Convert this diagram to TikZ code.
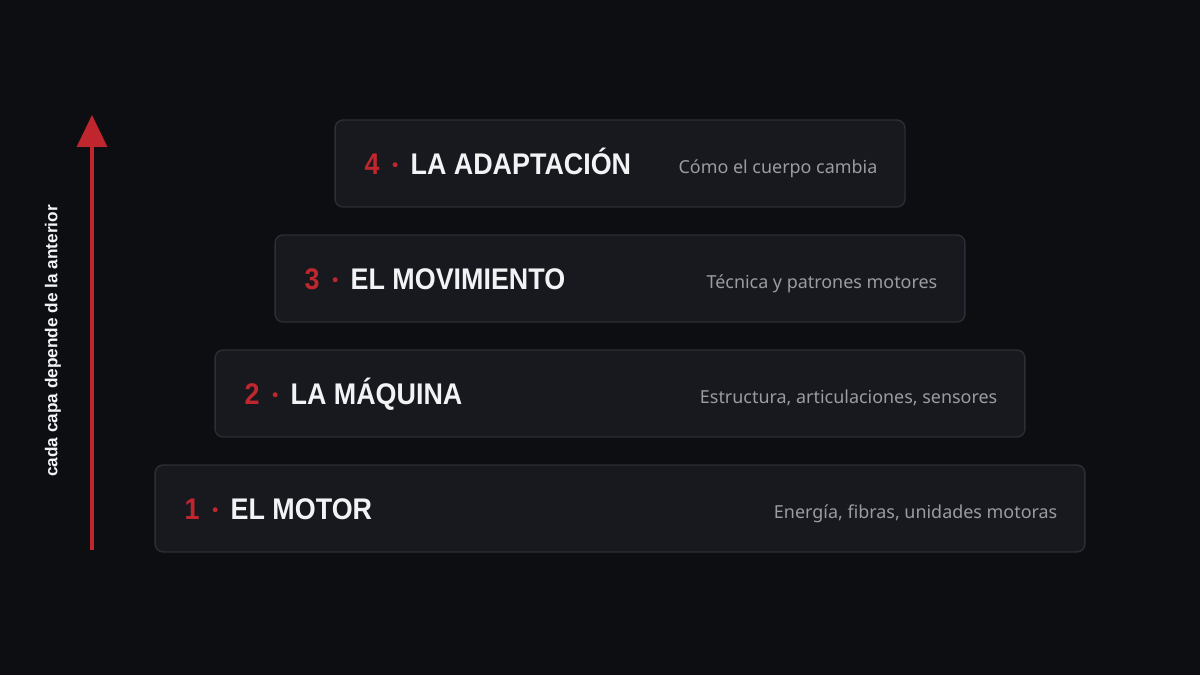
\documentclass[tikz,border=0pt]{standalone}
\usepackage{fontspec}
\setmainfont{Noto Sans}
\newfontfamily\titlefont[FakeStretch = 0.9]{Liberation Sans}
\newfontfamily\labelfont{Liberation Sans}
\usetikzlibrary{
    arrows.meta,
    positioning
}
\definecolor{bgdark}{HTML}{0D0E12}
\definecolor{boxfill}{HTML}{18191E}
\definecolor{boxline}{HTML}{2C2D35}
\definecolor{accent}{HTML}{C0262D}
\definecolor{titlewhite}{HTML}{F2F3F5}
\definecolor{notegrey}{HTML}{9A9CA4}
\newcommand{\layerdot}{\hspace{0.26cm}\raisebox{0.26em}{\tikz\fill[accent] (0, 0) circle (0.05cm);}\hspace{0.26cm}}
\tikzset {
    layer/.style = {draw = boxline, fill = boxfill, rounded corners = 0.16cm,
        line width = 0.8pt, minimum height = 1.74cm, inner sep = 0pt},
    layer title/.style = {anchor = base west, inner sep = 0pt, text = titlewhite,
        font = \titlefont\bfseries\fontsize{17}{20}\selectfont},
    layer note/.style = {anchor = base east, inner sep = 0pt, text = notegrey,
        font = \fontsize{10.2}{12}\selectfont},
    rise/.style = {draw = accent, line width = 2pt,
        -{Triangle[length = 0.64cm, width = 0.6cm]}},
    rise label/.style = {rotate = 90, text = titlewhite,
        font = \labelfont\bfseries\fontsize{9.8}{11}\selectfont}
}

\begin{document}
\begin{tikzpicture}[x = 0.02cm, y = -0.02cm]
    \fill [bgdark] (0, 0) rectangle (1200, 675);
    % layers, bottom to top
    \foreach \i/\w/\yc/\name/\note in {
        1/18.6/508.5/EL MOTOR/{Energía, fibras, unidades motoras},
        2/16.2/393.5/LA MÁQUINA/{Estructura, articulaciones, sensores},
        3/13.8/278.5/EL MOVIMIENTO/{Técnica y patrones motores},
        4/11.4/163.5/LA ADAPTACIÓN/{Cómo el cuerpo cambia}} {
        \node (layer\i) [layer, minimum width = \w cm] at (620, \yc) {};
        \node (title\i) [layer title] at ([xshift = 0.6cm, yshift = -0.23cm]layer\i.west)
            {\textcolor{accent}{\i}\layerdot\name};
        \node (note\i) [layer note] at ([xshift = -0.56cm, yshift = -0.21cm]layer\i.east)
            {\note};
    }
    \coordinate (base) at (92, 550);
    \coordinate (top) at (92, 115);
    \draw [rise] (base) -- (top);
    \node (dep) [rise label] at (53, 341) {cada capa depende de la anterior};
\end{tikzpicture}
\end{document}
